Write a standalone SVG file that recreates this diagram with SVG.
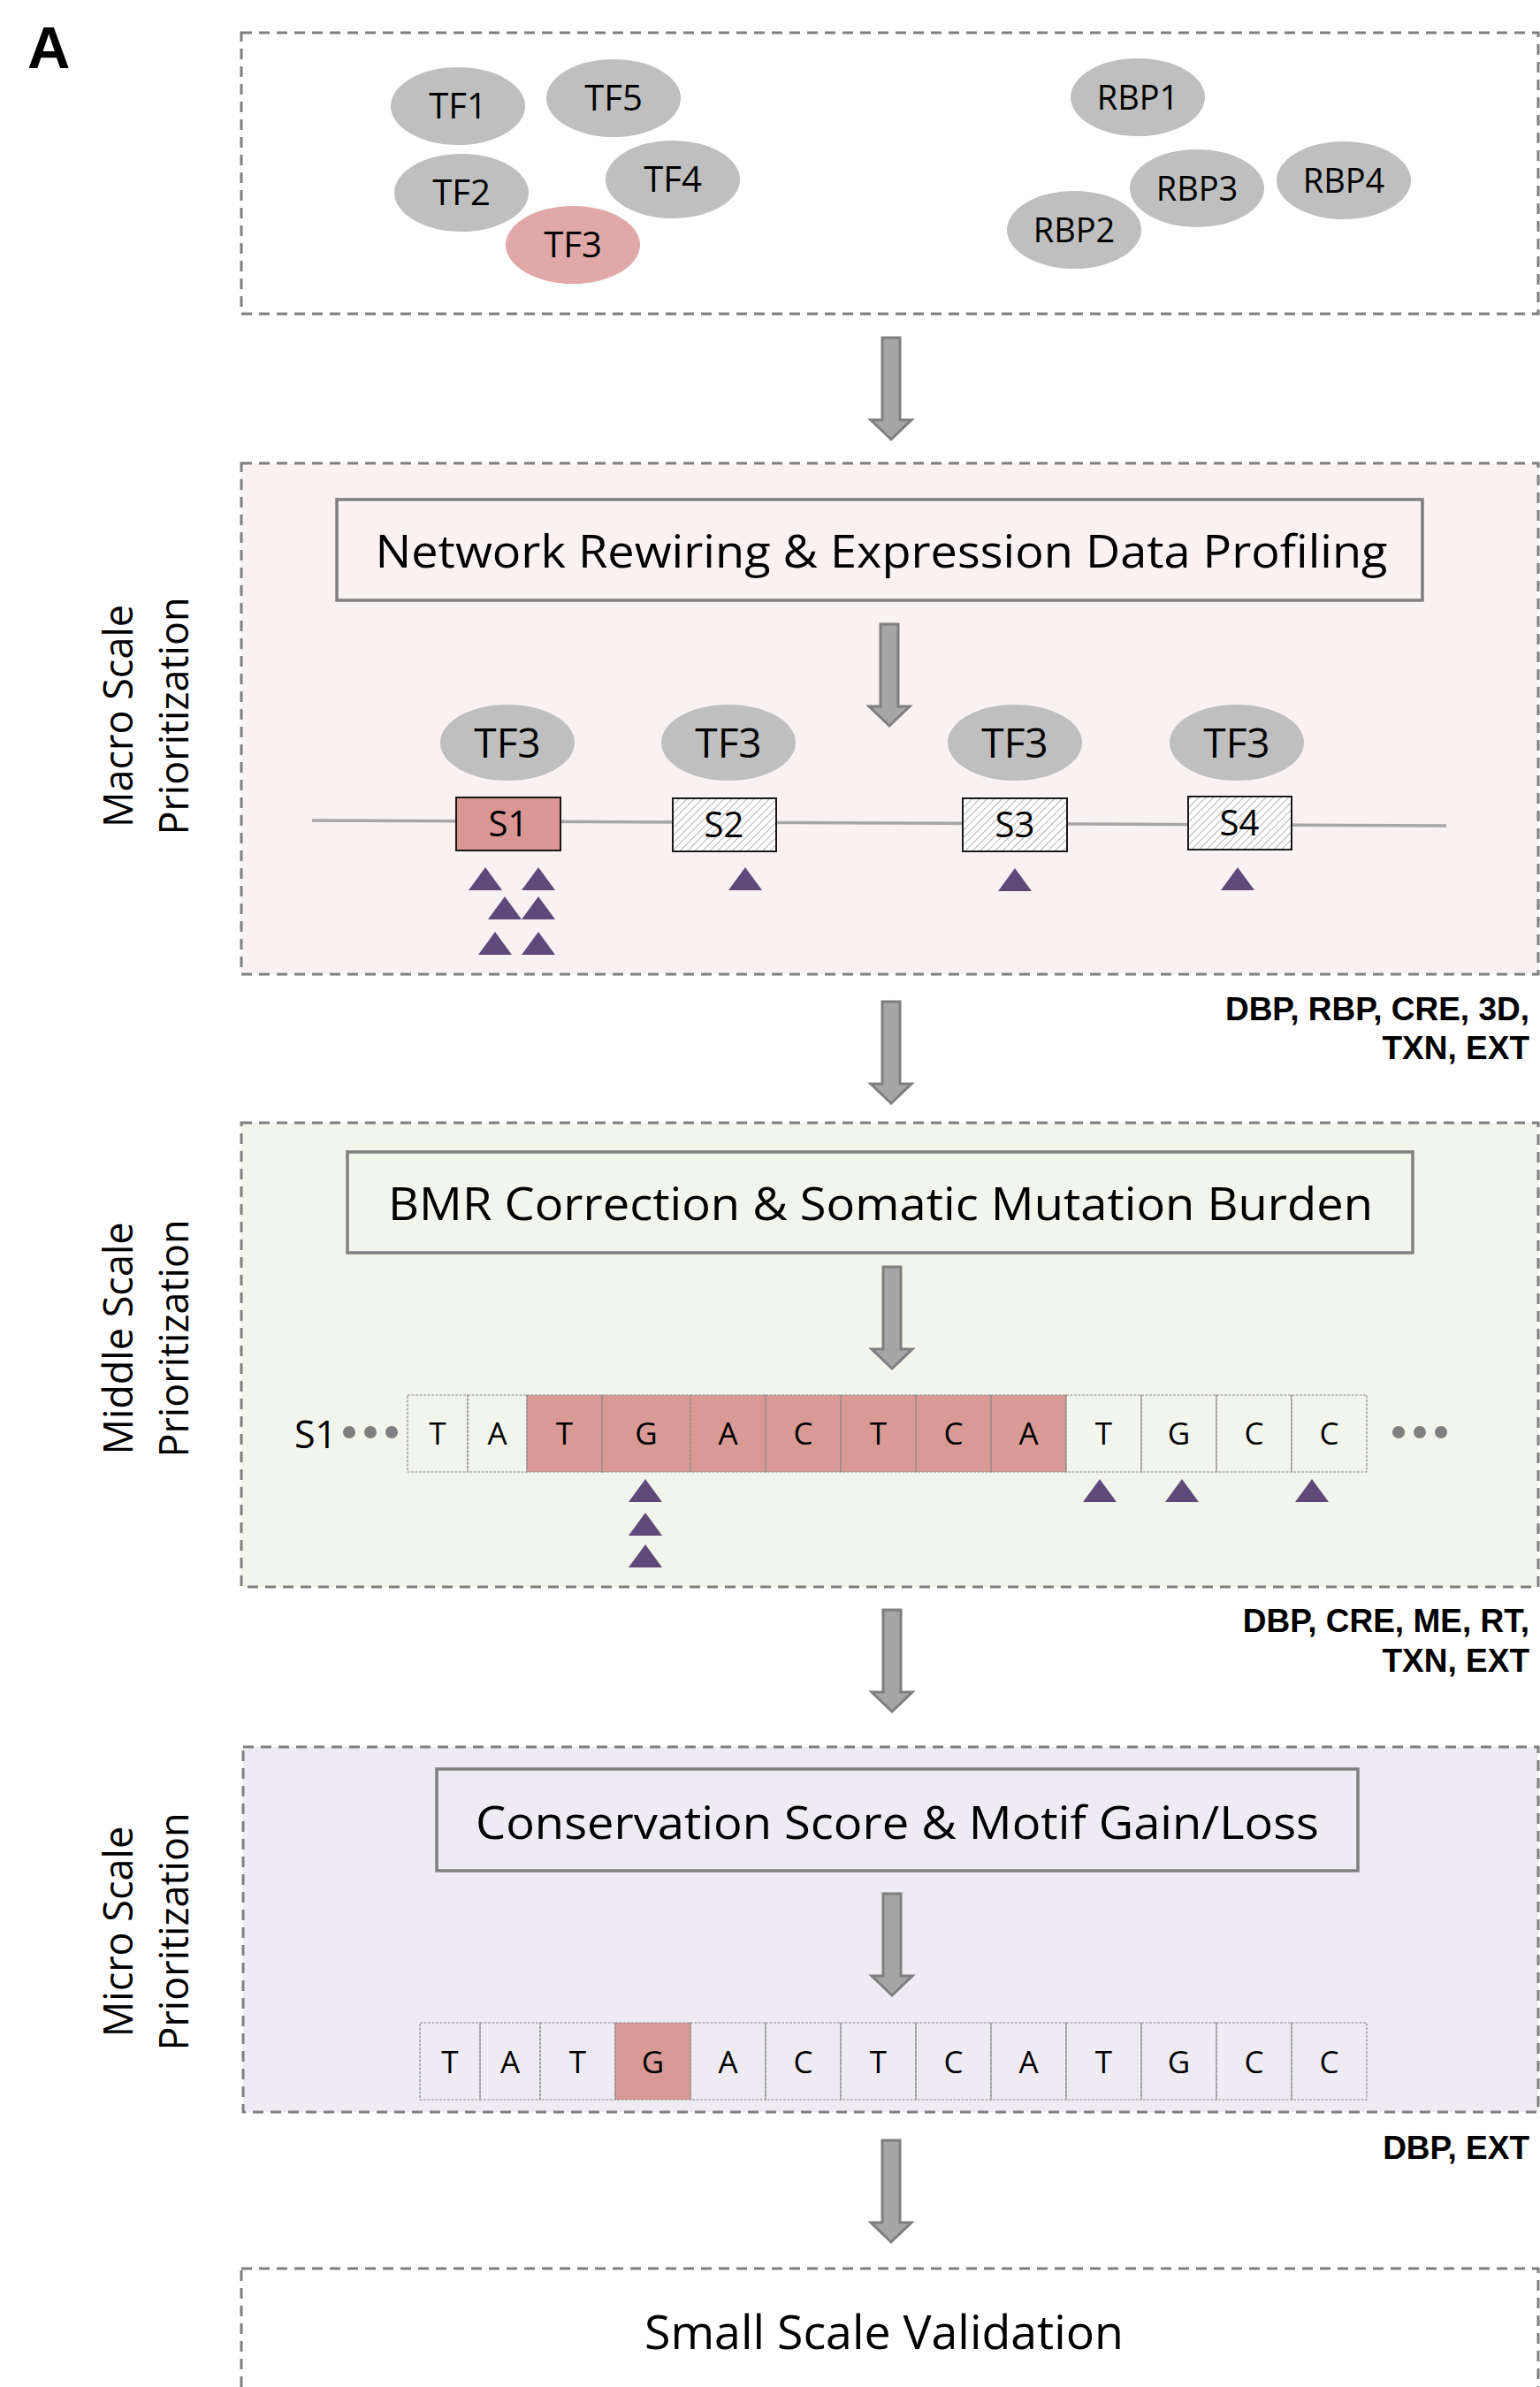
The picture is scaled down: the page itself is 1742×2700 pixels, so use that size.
<svg xmlns="http://www.w3.org/2000/svg" xmlns:xlink="http://www.w3.org/1999/xlink" width="1742" height="2700" viewBox="0 0 1742 2700">
<style>
.panel{stroke:#7f7f7f;stroke-width:3;stroke-dasharray:12 8}
.inner{fill:none;stroke:#7f7f7f;stroke-width:3.5}
.cal{font-family:"Open Sans","Noto Sans","DejaVu Sans",sans-serif;fill:#000}
.bold{font-family:"Liberation Sans",Arial,sans-serif;font-weight:bold;fill:#000}
.ell{fill:#bfbfbf}
.cell{fill:none;stroke:#8c8c8c;stroke-width:1.2;stroke-dasharray:3 1.5}
.pink{fill:#d99a95}
.tri{fill:#5f497a}
.arrow{fill:#a6a6a6;stroke:#7f7f7f;stroke-width:3}
.dot{fill:#7f7f7f}
</style>
<defs>
<pattern id="hatch" width="6" height="6" patternUnits="userSpaceOnUse" patternTransform="rotate(45)">
<rect width="6" height="6" fill="#ffffff"/>
<line x1="0" y1="0" x2="0" y2="6" stroke="#8a8a8a" stroke-width="1.3"/>
</pattern>
<path id="arr" class="arrow" d="M-10,0 H10 V93 H23 L0,115 L-23,93 H-10 Z"/>
<path id="tri" class="tri" d="M-19,0 L19,0 L0,-26 Z"/>
</defs>
<rect width="1742" height="2700" fill="#ffffff"/>

<text class="bold" x="31" y="77" font-size="67">A</text>

<!-- Panels -->
<g id="panel-top">
<rect class="panel" x="273" y="37" width="1467" height="318" fill="#ffffff"/>
</g>
<g id="panel-macro">
<rect class="panel" x="273" y="524" width="1467" height="578" fill="#f8f2f2"/>
<text class="cal" font-size="45" text-anchor="middle" transform="translate(150,810) rotate(-90)">Macro Scale</text>
<text class="cal" font-size="45" text-anchor="middle" transform="translate(213,810) rotate(-90)">Prioritization</text>
</g>
<g id="panel-middle">
<rect class="panel" x="273" y="1270" width="1467" height="525" fill="#f2f5ec"/>
<text class="cal" font-size="45" text-anchor="middle" transform="translate(150,1514) rotate(-90)">Middle Scale</text>
<text class="cal" font-size="45" text-anchor="middle" transform="translate(213,1514) rotate(-90)">Prioritization</text>
</g>
<g id="panel-micro">
<rect class="panel" x="275" y="1976" width="1465" height="413" fill="#eeebf2"/>
<text class="cal" font-size="45" text-anchor="middle" transform="translate(150,2185) rotate(-90)">Micro Scale</text>
<text class="cal" font-size="45" text-anchor="middle" transform="translate(213,2185) rotate(-90)">Prioritization</text>
</g>
<g id="panel-validation">
<rect class="panel" x="273" y="2566" width="1467" height="160" fill="#ffffff"/>
<text class="cal" font-size="53" x="1000" y="2657" text-anchor="middle" textLength="542" lengthAdjust="spacingAndGlyphs">Small Scale Validation</text>
</g>

<!-- Top panel proteins -->
<g id="node-TF1"><ellipse class="ell" cx="518" cy="120" rx="76" ry="44"/><text class="cal" font-size="40" x="518" y="134" text-anchor="middle">TF1</text></g>
<g id="node-TF5"><ellipse class="ell" cx="694" cy="111" rx="76" ry="44"/><text class="cal" font-size="40" x="694" y="125" text-anchor="middle">TF5</text></g>
<g id="node-TF2"><ellipse class="ell" cx="522" cy="218" rx="76" ry="44"/><text class="cal" font-size="40" x="522" y="232" text-anchor="middle">TF2</text></g>
<g id="node-TF4"><ellipse class="ell" cx="761" cy="203" rx="76" ry="44"/><text class="cal" font-size="40" x="761" y="217" text-anchor="middle">TF4</text></g>
<g id="node-TF3"><ellipse cx="648" cy="277" rx="76" ry="44" fill="#e0a8a8"/><text class="cal" font-size="40" x="648" y="291" text-anchor="middle">TF3</text></g>
<g id="node-RBP1"><ellipse class="ell" cx="1287" cy="110" rx="76" ry="44"/><text class="cal" font-size="38" x="1287" y="124" text-anchor="middle">RBP1</text></g>
<g id="node-RBP3"><ellipse class="ell" cx="1354" cy="213" rx="76" ry="44"/><text class="cal" font-size="38" x="1354" y="227" text-anchor="middle">RBP3</text></g>
<g id="node-RBP4"><ellipse class="ell" cx="1520" cy="204" rx="76" ry="44"/><text class="cal" font-size="38" x="1520" y="218" text-anchor="middle">RBP4</text></g>
<g id="node-RBP2"><ellipse class="ell" cx="1215" cy="260" rx="76" ry="44"/><text class="cal" font-size="38" x="1215" y="274" text-anchor="middle">RBP2</text></g>

<!-- Macro panel -->
<g id="node-network">
<rect class="inner" x="381" y="565" width="1228" height="114"/>
<text class="cal" font-size="52" x="997" y="642" text-anchor="middle" textLength="1145" lengthAdjust="spacingAndGlyphs">Network Rewiring &amp; Expression Data Profiling</text>
</g>
<g id="node-macro-line">
<line x1="353" y1="928" x2="1636" y2="934" stroke="#a6a6a6" stroke-width="3.5"/>
</g>
<g id="node-TF3-a"><ellipse class="ell" cx="574" cy="840" rx="76" ry="43"/><text class="cal" font-size="46" x="574" y="857" text-anchor="middle">TF3</text></g>
<g id="node-TF3-b"><ellipse class="ell" cx="824" cy="840" rx="76" ry="43"/><text class="cal" font-size="46" x="824" y="857" text-anchor="middle">TF3</text></g>
<g id="node-TF3-c"><ellipse class="ell" cx="1148" cy="840" rx="76" ry="43"/><text class="cal" font-size="46" x="1148" y="857" text-anchor="middle">TF3</text></g>
<g id="node-TF3-d"><ellipse class="ell" cx="1399" cy="840" rx="76" ry="43"/><text class="cal" font-size="46" x="1399" y="857" text-anchor="middle">TF3</text></g>
<g id="node-S1"><rect x="516" y="902" width="118" height="60" fill="#d99694" stroke="#1a1a1a" stroke-width="2"/><text class="cal" font-size="40" x="575" y="946" text-anchor="middle">S1</text></g>
<g id="node-S2"><rect x="761" y="903" width="117" height="60" fill="url(#hatch)" stroke="#1a1a1a" stroke-width="2"/><text class="cal" font-size="40" x="819" y="947" text-anchor="middle">S2</text></g>
<g id="node-S3"><rect x="1089" y="903" width="118" height="60" fill="url(#hatch)" stroke="#1a1a1a" stroke-width="2"/><text class="cal" font-size="40" x="1148" y="947" text-anchor="middle">S3</text></g>
<g id="node-S4"><rect x="1344" y="901" width="117" height="60" fill="url(#hatch)" stroke="#1a1a1a" stroke-width="2"/><text class="cal" font-size="40" x="1402" y="945" text-anchor="middle">S4</text></g>
<g id="macro-mutations">
<use href="#tri" x="549" y="1007"/><use href="#tri" x="609" y="1007"/>
<use href="#tri" x="571" y="1040"/><use href="#tri" x="609" y="1040"/>
<use href="#tri" x="560" y="1080"/><use href="#tri" x="609" y="1080"/>
<use href="#tri" x="843" y="1007"/>
<use href="#tri" x="1148" y="1008"/>
<use href="#tri" x="1400" y="1007"/>
</g>
<g id="label-macro">
<text class="bold" font-size="37" x="1730" y="1154" text-anchor="end">DBP, RBP, CRE, 3D,</text>
<text class="bold" font-size="37" x="1730" y="1198" text-anchor="end">TXN, EXT</text>
</g>

<!-- Middle panel -->
<g id="node-bmr">
<rect class="inner" x="393" y="1303" width="1205" height="114"/>
<text class="cal" font-size="52" x="996" y="1380" text-anchor="middle" textLength="1114" lengthAdjust="spacingAndGlyphs">BMR Correction &amp; Somatic Mutation Burden</text>
</g>
<g id="node-seq-middle">
<text class="cal" font-size="43" x="333" y="1638">S1</text>
<circle class="dot" cx="395" cy="1620" r="7"/><circle class="dot" cx="419" cy="1620" r="7"/><circle class="dot" cx="443" cy="1620" r="7"/>
<rect class="pink" x="596" y="1578" width="610" height="87"/>
<rect class="cell" x="461" y="1578" width="68" height="87"/>
<rect class="cell" x="529" y="1578" width="67" height="87"/>
<rect class="cell" x="596" y="1578" width="85" height="87"/>
<rect class="cell" x="681" y="1578" width="100" height="87"/>
<rect class="cell" x="781" y="1578" width="85" height="87"/>
<rect class="cell" x="866" y="1578" width="85" height="87"/>
<rect class="cell" x="951" y="1578" width="85" height="87"/>
<rect class="cell" x="1036" y="1578" width="85" height="87"/>
<rect class="cell" x="1121" y="1578" width="85" height="87"/>
<rect class="cell" x="1206" y="1578" width="85" height="87"/>
<rect class="cell" x="1291" y="1578" width="85" height="87"/>
<rect class="cell" x="1376" y="1578" width="85" height="87"/>
<rect class="cell" x="1461" y="1578" width="85" height="87"/>
<g class="cal" font-size="35" text-anchor="middle">
<text x="495" y="1634">T</text><text x="562.5" y="1634">A</text><text x="638.5" y="1634">T</text><text x="731" y="1634">G</text><text x="823.5" y="1634">A</text><text x="908.5" y="1634">C</text><text x="993.5" y="1634">T</text><text x="1078.5" y="1634">C</text><text x="1163.5" y="1634">A</text><text x="1248.5" y="1634">T</text><text x="1333.5" y="1634">G</text><text x="1418.5" y="1634">C</text><text x="1503.5" y="1634">C</text>
</g>
<circle class="dot" cx="1582" cy="1620" r="7"/><circle class="dot" cx="1606" cy="1620" r="7"/><circle class="dot" cx="1630" cy="1620" r="7"/>
</g>
<g id="middle-mutations">
<use href="#tri" x="730" y="1699"/><use href="#tri" x="730" y="1737"/><use href="#tri" x="730" y="1773"/>
<use href="#tri" x="1244" y="1699"/><use href="#tri" x="1337" y="1699"/><use href="#tri" x="1484" y="1699"/>
</g>
<g id="label-middle">
<text class="bold" font-size="37" x="1730" y="1846" text-anchor="end">DBP, CRE, ME, RT,</text>
<text class="bold" font-size="37" x="1730" y="1891" text-anchor="end">TXN, EXT</text>
</g>

<!-- Micro panel -->
<g id="node-conservation">
<rect class="inner" x="494" y="2001" width="1042" height="115"/>
<text class="cal" font-size="52" x="1015" y="2080" text-anchor="middle" textLength="954" lengthAdjust="spacingAndGlyphs">Conservation Score &amp; Motif Gain/Loss</text>
</g>
<g id="node-seq-micro">
<rect class="pink" x="696" y="2288" width="85" height="87"/>
<rect class="cell" x="475" y="2288" width="68" height="87"/>
<rect class="cell" x="543" y="2288" width="68" height="87"/>
<rect class="cell" x="611" y="2288" width="85" height="87"/>
<rect class="cell" x="696" y="2288" width="85" height="87"/>
<rect class="cell" x="781" y="2288" width="85" height="87"/>
<rect class="cell" x="866" y="2288" width="85" height="87"/>
<rect class="cell" x="951" y="2288" width="85" height="87"/>
<rect class="cell" x="1036" y="2288" width="85" height="87"/>
<rect class="cell" x="1121" y="2288" width="85" height="87"/>
<rect class="cell" x="1206" y="2288" width="85" height="87"/>
<rect class="cell" x="1291" y="2288" width="85" height="87"/>
<rect class="cell" x="1376" y="2288" width="85" height="87"/>
<rect class="cell" x="1461" y="2288" width="85" height="87"/>
<g class="cal" font-size="35" text-anchor="middle">
<text x="509" y="2345">T</text><text x="577" y="2345">A</text><text x="653.5" y="2345">T</text><text x="738.5" y="2345">G</text><text x="823.5" y="2345">A</text><text x="908.5" y="2345">C</text><text x="993.5" y="2345">T</text><text x="1078.5" y="2345">C</text><text x="1163.5" y="2345">A</text><text x="1248.5" y="2345">T</text><text x="1333.5" y="2345">G</text><text x="1418.5" y="2345">C</text><text x="1503.5" y="2345">C</text>
</g>
</g>
<g id="label-micro">
<text class="bold" font-size="37" x="1730" y="2442" text-anchor="end">DBP, EXT</text>
</g>

<!-- Connectors -->
<g id="connectors">
<use href="#arr" x="1008" y="382"/>
<use href="#arr" x="1006" y="706"/>
<use href="#arr" x="1008" y="1133"/>
<use href="#arr" x="1009" y="1433"/>
<use href="#arr" x="1009" y="1821"/>
<use href="#arr" x="1009" y="2142"/>
<use href="#arr" x="1008" y="2421"/>
</g>
</svg>
